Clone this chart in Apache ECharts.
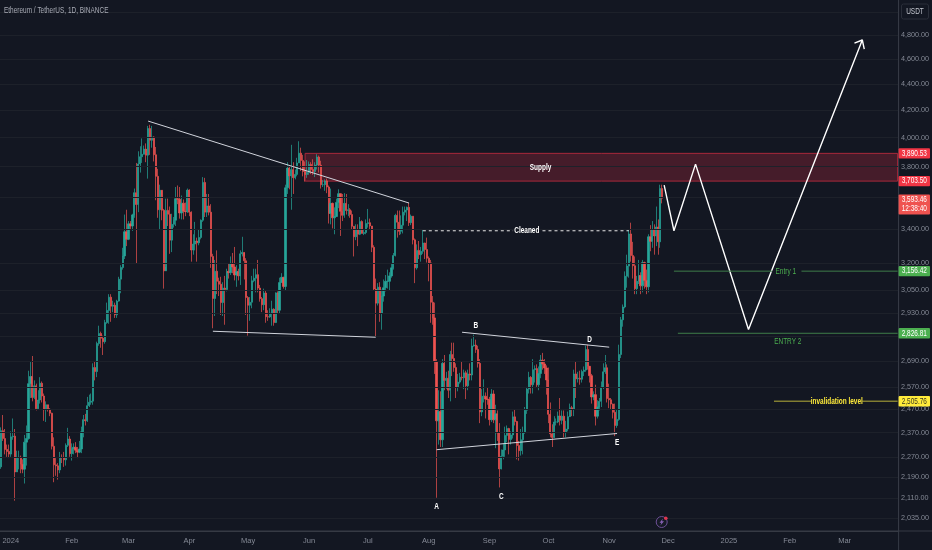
<!DOCTYPE html>
<html><head><meta charset="utf-8">
<style>html,body{margin:0;padding:0;background:#131722}#c{width:932px;height:550px}</style>
<script src="https://cdn.jsdelivr.net/npm/echarts@6/dist/echarts.min.js"></script>
</head><body><div id="c"></div>
<script>
const title = 'Ethereum / TetherUS, 1D, BINANCE';
const firstDay = '2023-12-27';
const totalDays = 458;
const closes = [
2378,2345,2300,2292,2281,
2352,2355,2210,2268,2268,2240,2221,2330,2345,2585,2618,2522,2575,2472,2511,2587,2529,2468,2490,2470,2453,2313,2238,2234,2218,2268,2267,2258,2317,2343,2283,
2304,2309,2297,2289,2302,2373,2425,2420,2486,2501,2506,2660,2641,2776,2826,2802,2785,2881,2944,3014,2966,2971,2921,2993,3112,3177,3243,3385,3340,
3433,3420,3488,3628,3553,3818,3867,3884,3920,3878,4066,3982,4005,3881,3735,3520,3644,3517,3158,3516,3492,3335,3430,3455,3590,3586,3500,3561,3510,3508,3645,
3505,3277,3312,3330,3319,3351,3455,3695,3505,3544,3505,3240,3007,3156,3100,3084,2985,3063,3055,3155,3148,3200,3180,3135,3155,3130,3255,3263,3215,3012,
2971,2987,3103,3117,3137,3063,3006,2974,3036,2911,2910,2930,2950,2881,3037,2945,3093,3122,3072,3660,3790,3738,3780,3726,3748,3825,3892,3842,3767,3747,3760,
3815,3780,3767,3811,3865,3810,3680,3680,3705,3665,3497,3560,3470,3478,3566,3622,3510,3485,3560,3515,3520,3490,3418,3355,3395,3370,3447,3375,3380,3435,
3440,3420,3293,3058,2982,3068,2930,3020,3065,3100,3100,3130,3175,3245,3485,3443,3388,3425,3505,3518,3535,3440,3480,3337,3175,3275,3250,3270,3318,3280,3230,
3203,2987,2905,2688,2420,2460,2340,2680,2600,2610,2555,2722,2703,2660,2570,2592,2615,2612,2635,2575,2630,2625,2764,2768,2747,2680,2458,2528,2528,2515,2513,
2425,2538,2424,2450,2368,2222,2272,2298,2358,2387,2341,2360,2437,2417,2316,2295,2340,2370,2466,2560,2614,2580,2650,2655,2580,2632,2695,2677,2658,2602,
2448,2365,2349,2415,2415,2441,2422,2440,2370,2385,2438,2477,2470,2630,2607,2610,2605,2641,2648,2747,2666,2622,2525,2535,2440,2480,2505,2569,2640,2659,2518,
2512,2493,2457,2400,2426,2722,2895,2962,3128,3185,3372,3245,3187,3060,3100,3132,3075,3205,3105,3070,3355,3328,3395,3360,3414,3325,3655,3593];
const opens = [
2230,2378,2345,2300,2292,
2281,2352,2355,2210,2268,2268,2240,2221,2330,2345,2585,2618,2522,2575,2472,2511,2587,2529,2468,2490,2470,2453,2313,2238,2234,2218,2268,2267,2258,2317,2343,
2283,2304,2309,2297,2289,2302,2373,2425,2420,2486,2501,2506,2660,2641,2776,2826,2802,2785,2881,2944,3014,2966,2971,2921,2993,3112,3177,3243,3385,
3340,3433,3420,3488,3628,3553,3818,3867,3884,3920,3878,4066,3982,4005,3881,3735,3520,3644,3517,3158,3516,3492,3335,3430,3455,3590,3586,3500,3561,3510,3508,
3645,3505,3277,3312,3330,3319,3351,3455,3695,3505,3544,3505,3240,3007,3156,3100,3084,2985,3063,3055,3155,3148,3200,3180,3135,3155,3130,3255,3263,3215,
3012,2971,2987,3103,3117,3137,3063,3006,2974,3036,2911,2910,2930,2950,2881,3037,2945,3093,3122,3072,3660,3790,3738,3780,3726,3748,3825,3892,3842,3767,3747,
3760,3815,3780,3767,3811,3865,3810,3680,3680,3705,3665,3497,3560,3470,3478,3566,3622,3510,3485,3560,3515,3520,3490,3418,3355,3395,3370,3447,3375,3380,
3435,3440,3420,3293,3058,2982,3068,2930,3020,3065,3100,3100,3130,3175,3245,3485,3443,3388,3425,3505,3518,3535,3440,3480,3337,3175,3275,3250,3270,3318,3280,
3230,3203,2987,2905,2688,2420,2460,2340,2680,2600,2610,2555,2722,2703,2660,2570,2592,2615,2612,2635,2575,2630,2625,2764,2768,2747,2680,2458,2528,2528,2515,
2513,2425,2538,2424,2450,2368,2222,2272,2298,2358,2387,2341,2360,2437,2417,2316,2295,2340,2370,2466,2560,2614,2580,2650,2655,2580,2632,2695,2677,2658,
2602,2448,2365,2349,2415,2415,2441,2422,2440,2370,2385,2438,2477,2470,2630,2607,2610,2605,2641,2648,2747,2666,2622,2525,2535,2440,2480,2505,2569,2640,2659,
2518,2512,2493,2457,2400,2426,2722,2895,2962,3128,3185,3372,3245,3187,3060,3100,3132,3075,3205,3105,3070,3355,3328,3395,3360,3414,3325,3655];
const highs = [
2392,2445,2385,2320,2320,
2375,2430,2385,2295,2295,2275,2260,2360,2400,2645,2690,2715,2600,2585,2555,2615,2595,2540,2505,2490,2475,2455,2350,2265,2245,2290,2280,2290,2325,2390,2355,
2325,2325,2330,2310,2335,2395,2445,2450,2525,2535,2540,2680,2690,2785,2865,2835,2815,2895,2985,3030,3030,2995,2985,3000,3125,3190,3290,3490,3520,
3450,3450,3495,3655,3825,3905,3940,3995,3945,3960,4085,4093,4085,4010,3935,3785,3680,3610,3525,3590,3590,3540,3495,3475,3665,3675,3665,3610,3585,3565,3655,
3650,3510,3370,3445,3350,3400,3460,3730,3725,3620,3620,3555,3255,3220,3275,3120,3125,3095,3130,3170,3200,3240,3260,3295,3190,3170,3275,3355,3240,3230,
3020,3015,3130,3170,3170,3220,3080,3015,3060,3050,2945,2955,2995,2955,3040,3045,3120,3145,3125,3680,3830,3810,3950,3830,3780,3860,3975,3930,3880,3835,3845,
3835,3830,3850,3830,3885,3875,3840,3710,3715,3720,3675,3655,3565,3535,3590,3650,3620,3620,3625,3620,3555,3530,3515,3420,3430,3430,3475,3455,3400,3460,
3525,3465,3420,3305,3115,3090,3095,3055,3110,3135,3165,3150,3200,3260,3495,3515,3515,3485,3540,3540,3540,3563,3490,3480,3345,3310,3330,3295,3400,3320,3350,
3240,3220,3020,2985,2700,2555,2550,2700,2720,2640,2645,2740,2780,2780,2680,2630,2635,2690,2650,2645,2650,2680,2800,2820,2795,2765,2700,2560,2605,2545,2565,
2525,2560,2555,2490,2465,2410,2300,2325,2395,2400,2390,2375,2460,2470,2420,2335,2385,2395,2480,2570,2640,2620,2700,2670,2675,2665,2720,2730,2700,2670,
2660,2500,2405,2440,2430,2460,2520,2465,2465,2420,2460,2495,2485,2650,2690,2640,2645,2650,2665,2765,2770,2640,2630,2550,2580,2510,2520,2595,2680,2720,2675,
2585,2520,2495,2495,2470,2770,2910,2975,3155,3250,3400,3440,3325,3240,3130,3220,3150,3220,3210,3165,3370,3425,3450,3430,3540,3460,3680,3680];
const lows = [
2222,2335,2280,2270,2265,
2270,2340,2100,2210,2220,2205,2205,2165,2235,2340,2520,2505,2515,2465,2470,2495,2500,2420,2415,2460,2440,2300,2170,2195,2180,2205,2245,2230,2235,2310,2270,
2255,2280,2285,2265,2285,2285,2350,2400,2415,2480,2490,2490,2600,2615,2765,2755,2720,2775,2875,2875,2885,2935,2905,2905,2990,3035,3165,3225,3300,
3335,3395,3390,3470,3200,3505,3760,3825,3885,3830,3720,3880,3930,3835,3580,3470,3400,3455,3060,3180,3420,3255,3265,3410,3420,3555,3465,3460,3460,3480,3500,
3480,3210,3250,3275,3210,3305,3340,3445,3475,3475,3485,3175,2852,2915,3030,3020,2920,2915,2870,3045,3115,3135,3145,3105,3070,3105,3080,3240,3110,2920,
2815,2890,2955,3095,3040,3040,2990,2935,2945,2880,2890,2905,2865,2865,2885,2930,2930,3095,3060,3050,3620,3650,3520,3620,3715,3735,3825,3770,3735,3700,3725,
3745,3750,3745,3730,3780,3760,3655,3665,3640,3625,3435,3430,3405,3370,3475,3530,3360,3450,3470,3490,3480,3470,3400,3240,3335,3300,3365,3375,3365,3370,
3410,3400,3265,3050,2810,2970,2885,2845,2990,3045,3060,3050,3120,3165,3240,3350,3365,3370,3375,3485,3450,3420,3425,3310,3090,3165,3225,3210,3255,3225,3205,
3100,2880,2870,2630,2111,2320,2310,2310,2555,2560,2520,2505,2620,2640,2520,2550,2585,2600,2560,2515,2555,2600,2600,2760,2730,2660,2410,2440,2500,2430,2490,
2400,2415,2410,2305,2335,2150,2220,2260,2270,2330,2280,2320,2345,2400,2260,2255,2275,2280,2365,2450,2540,2540,2540,2590,2570,2555,2610,2650,2630,2535,
2410,2350,2310,2350,2400,2410,2400,2405,2350,2350,2375,2440,2440,2440,2520,2590,2580,2590,2620,2640,2650,2590,2495,2510,2400,2430,2465,2480,2560,2630,2500,
2475,2470,2430,2355,2390,2420,2705,2860,2955,3065,3120,3210,3115,3030,3030,3085,3030,3040,3060,3030,3040,3270,3290,3250,3300,3250,3290,3560];
const yTicks = [4800,4600,4400,4200,4000,3800,3400,3200,3050,2930,2690,2570,2470,2370,2270,2190,2110,2035];
const gridOnly = [5000,3600,2810];
const xTickIdx = [5,36,65,96,126,157,187,218,249,279,310,340,371,402,430];
const xTickText = ['2024','Feb','Mar','Apr','May','Jun','Jul','Aug','Sep','Oct','Nov','Dec','2025','Feb','Mar'];
const supply = {left:155,right:457,top:3890.53,bottom:3703.5};
const trendTop = [[75,4120],[208,3562]];
const trendLow = [[108,2837],[191,2807]];
const triLow = [[222,2299],[314,2366]];
const triUp = [[235,2832],[310,2758]];
const cleanedA = [[215,3391],[261,3391]];
const cleanedB = [[276,3391],[320,3391]];
const forecast = [[338,3677],[343,3391],[354,3817],[381,2846],[439,4758]];
const arrowHead = [[435,4732],[439,4758],[440,4682]];
const entry1A = [[343,3156.42],[393,3156.42]];
const entry1B = [[408,3156.42],[457,3156.42]];
const entry2 = [[345,2826.81],[457,2826.81]];
const invalidA = [[394,2505.76],[413,2505.76]];
const invalidB = [[439,2505.76],[457,2505.76]];
const whiteLabels = [[222,2079,'A'],[242,2863,'B'],[255,2116,'C'],[300,2797,'D'],[314,2326,'E'],[268,3391,'Cleaned'],[275,3790,'Supply']];
const greenLabels = [[400,3156,'Entry 1'],[401,2787,'ENTRY 2']];
const yellowLabels = [[426,2505.76,'invalidation level']];
const badges = [
 {v:3890.53,t:'3,890.53',bg:'#f23645',fg:'#ffffff'},
 {v:3703.5,t:'3,703.50',bg:'#f23645',fg:'#ffffff'},
 {v:3156.42,t:'3,156.42',bg:'#4caf50',fg:'#ffffff'},
 {v:2826.81,t:'2,826.81',bg:'#4caf50',fg:'#ffffff'},
 {v:2505.76,t:'2,505.76',bg:'#ffeb3b',fg:'#3a3a20'}];
const priceTag = {v:3593.46,t:'3,593.46',t2:'12:38:40',bg:'#ef5350'};

const FONT = '"Liberation Sans",sans-serif';
const categories = [];
{const d = new Date(firstDay+'T00:00:00Z');for(let i=0;i<totalDays;i++){categories.push(new Date(d.getTime()+i*864e5).toISOString().slice(0,10));}}
const ohlc = closes.map((c,i)=>[opens[i],c,lows[i],highs[i]]);

const seg=(data,color,width,type)=>({type:'line',data,showSymbol:false,symbol:'none',silent:true,animation:false,z:5,
  lineStyle:{color,width,type:type||'solid'}});

const chart = echarts.init(document.getElementById('c'),null,{renderer:'canvas'});
chart.setOption({
  backgroundColor:'#131722',animation:false,
  grid:{left:0,right:33.4,top:0,height:531,outerBoundsMode:'none',containLabel:false},
  xAxis:{type:'category',data:categories,boundaryGap:true,
    axisLine:{show:true,lineStyle:{color:'#363a45'}},axisTick:{show:false},splitLine:{show:false},
    axisLabel:{show:true,interval:(i)=>xTickIdx.includes(i),hideOverlap:false,
      formatter:(v,i)=>{const k=xTickIdx.indexOf(i);return k>=0?xTickText[k]:'';},
      color:'#858a96',fontSize:7.5,fontFamily:FONT,margin:6}},
  yAxis:{type:'log',logBase:10,position:'right',min:1990,max:5108,
    axisLine:{show:true,lineStyle:{color:'#363a45'}},axisTick:{show:false},splitLine:{show:false},
    axisLabel:{show:true,customValues:yTicks,formatter:v=>Number(v).toLocaleString('en-US',{minimumFractionDigits:2,maximumFractionDigits:2}),
      color:'#858a96',fontSize:7.2,fontFamily:FONT,margin:2.5,showMinLabel:true,showMaxLabel:true}},
  series:[
    {type:'line',data:[],silent:true,animation:false,z:1,
     markLine:{silent:true,symbol:'none',animation:false,label:{show:false},lineStyle:{color:'#1d212a',width:1,type:'solid'},
       data:yTicks.concat(gridOnly).map(v=>({yAxis:v}))}},
    {type:'line',data:[],silent:true,animation:false,z:2,
     markArea:{silent:true,animation:false,itemStyle:{color:'rgba(178,40,60,0.32)',borderColor:'#a8283a',borderWidth:1},
       data:[[{xAxis:supply.left,yAxis:supply.top},{xAxis:supply.right,yAxis:supply.bottom}]]}},
    {type:'candlestick',data:ohlc,barWidth:1.7,animation:false,z:3,
     itemStyle:{color:'#26a69a',color0:'#ef5350',borderColor:'#26a69a',borderColor0:'#ef5350',borderWidth:0.7}},
    seg(trendTop,'#d1d4dc',1),seg(trendLow,'#d1d4dc',1),seg(triLow,'#d1d4dc',1),seg(triUp,'#d1d4dc',1),
    seg(cleanedA,'#e8e8e8',1,[3,3]),seg(cleanedB,'#e8e8e8',1,[3,3]),
    seg(forecast,'#ffffff',1.4),seg(arrowHead,'#ffffff',1.4),
    seg(entry1A,'#3f7d4a',1),seg(entry1B,'#3f7d4a',1),seg(entry2,'#3f7d4a',1),
    seg(invalidA,'#b8b13a',1),seg(invalidB,'#b8b13a',1)
  ]
});
const py=v=>chart.convertToPixel({yAxisIndex:0},v);
const px=i=>chart.convertToPixel({xAxisIndex:0},i);
const g=[];
const X=898.6,W=31.4;
const label=(x,y,text,fill,size,weight,align,sx)=>({type:'text',x,y,scaleX:sx||0.76,silent:true,z:23,
  style:{text,fill,font:(weight||'normal')+' '+size+'px '+FONT,textAlign:align||'center',textVerticalAlign:'middle'}});
whiteLabels.forEach(d=>g.push(label(px(d[0]),py(d[1]),d[2],'#ffffff',8.5,'bold')));
greenLabels.forEach(d=>g.push(label(px(d[0]),py(d[1]),d[2],'#4caf50',8.5)));
yellowLabels.forEach(d=>g.push(label(px(d[0]),py(d[1]),d[2],'#ffeb3b',8.5,'bold')));
g.push({type:'line',shape:{x1:0,y1:531,x2:932,y2:531},style:{stroke:'#363a45',lineWidth:1},silent:true,z:20});
g.push({type:'line',shape:{x1:X,y1:0,x2:X,y2:550},style:{stroke:'#363a45',lineWidth:1},silent:true,z:20});
g.push(label(4,11,title,'#a8abb5',8.5,'normal','left'));
g.push({type:'rect',shape:{x:901.5,y:4,width:27,height:15,r:2},style:{fill:'#131722',stroke:'#2a2e39',lineWidth:1},silent:true,z:20});
g.push(label(915,11.5,'USDT','#c4c7cf',8.5));
badges.forEach(b=>{const y=py(b.v);
  g.push({type:'rect',shape:{x:X,y:y-5.2,width:W,height:10.4,r:1},style:{fill:b.bg},silent:true,z:22});
  g.push(label(X+W/2,y,b.t,b.fg,8.5));});
{const y=py(priceTag.v);
  g.push({type:'rect',shape:{x:X,y:y-3.5,width:W,height:20,r:1},style:{fill:priceTag.bg},silent:true,z:22});
  g.push(label(X+W/2,y+1.5,priceTag.t,'#fff',8.5));
  g.push(label(X+W/2,y+11,priceTag.t2,'#fff',8.5));}
g.push({type:'circle',shape:{cx:661.7,cy:522,r:5.5},style:{fill:'#161a26',stroke:'#6d4f96',lineWidth:1},silent:true,z:20});
g.push({type:'polygon',shape:{points:[[663,518.5],[659.5,522.8],[661.4,522.8],[660.4,525.6],[664,521.2],[662,521.2]]},style:{fill:'#8a62b8'},silent:true,z:21});
g.push({type:'circle',shape:{cx:665.8,cy:518.2,r:1.8},style:{fill:'#e0364f'},silent:true,z:22});
chart.setOption({graphic:g});
</script></body></html>
